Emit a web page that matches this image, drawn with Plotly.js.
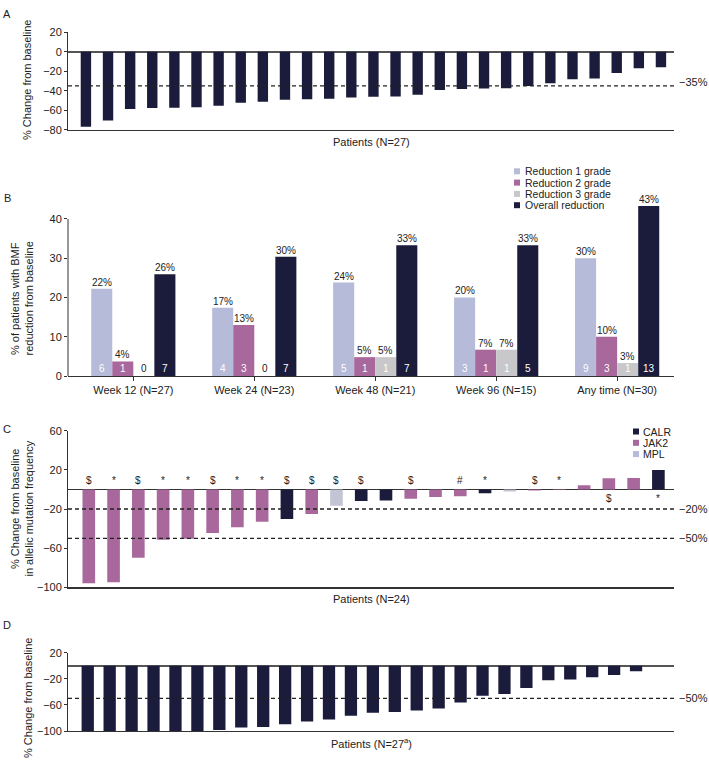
<!DOCTYPE html>
<html>
<head>
<meta charset="utf-8">
<script src="https://cdn.plot.ly/plotly-3.0.1.min.js"></script>
<style>
  html, body { margin: 0; padding: 0; background: #ffffff; }
  #chart { width: 709px; height: 762px; }
</style>
</head>
<body>
<div id="chart"></div>
<script>
// ---------- Data ----------
// Panel A: spleen volume change per patient (%)
const spleenChange = [-77, -70.5, -58.8, -57.7, -57.4, -57, -55.4, -52.3, -51.2, -49.2,
  -48.8, -48.1, -46.9, -46.1, -46, -44, -39.2, -38.2, -37.8, -37.5,
  -35.1, -32.4, -28.2, -27.5, -21.7, -16.9, -15.8];
const spleenThreshold = -35;

// Panel B: bone marrow fibrosis reduction
const bmfCategories = ['Week 12 (N=27)', 'Week 24 (N=23)', 'Week 48 (N=21)', 'Week 96 (N=15)', 'Any time (N=30)'];
const bmfSeriesNames = ['Reduction 1 grade', 'Reduction 2 grade', 'Reduction 3 grade', 'Overall reduction'];
const bmfPct1 = [22.2, 17.4, 23.8, 20.0, 30.0];
const bmfPct2 = [3.7, 13.0, 4.8, 6.7, 10.0];
const bmfPct3 = [0, 0, 4.8, 6.7, 3.3];
const bmfPctOverall = [25.9, 30.4, 33.3, 33.3, 43.3];
const bmfCount1 = [6, 4, 5, 3, 9];
const bmfCount2 = [1, 3, 1, 1, 3];
const bmfCount3 = [0, 0, 1, 1, 1];
const bmfCountOverall = [7, 7, 7, 5, 13];

// Panel C: allelic mutation frequency change per patient (%)
const alleleChange = [-95.9, -94.9, -69.7, -51.4, -50.3, -44.5, -38.7, -33.0, -30.2, -25.1,
  -16.6, -11.8, -11.2, -9.5, -7.8, -7.1, -4.0, -2.0, -1.0, -0.6,
  4.2, 11.3, 11.7, 19.8];
const alleleMutation = ['JAK2', 'JAK2', 'JAK2', 'JAK2', 'JAK2', 'JAK2', 'JAK2', 'JAK2', 'CALR', 'JAK2',
  'MPL', 'CALR', 'CALR', 'JAK2', 'JAK2', 'JAK2', 'CALR', 'MPL', 'JAK2', 'JAK2',
  'JAK2', 'JAK2', 'JAK2', 'CALR'];
const alleleMarks = ['$', '*', '$', '*', '*', '$', '*', '*', '$', '$',
  '$', '$', '', '$', '', '#', '*', '', '$', '*',
  '', '$', '', '*'];
const mutationNames = ['CALR', 'JAK2', 'MPL'];
const alleleThresholds = [-20, -50];

// Panel D: symptom score change per patient (%)
const symptomChange = [-100, -100, -100, -100, -100, -100, -98.5, -94.5, -94, -89.5,
  -85.3, -82.3, -76.6, -72, -71, -68.4, -65.4, -56.2, -46, -43.4,
  -34.2, -22.4, -20.9, -17.8, -14.3, -8.6, 0];
const symptomThreshold = -50;

// ---------- Styling ----------
const W = 709, H = 762;
const FONT = 'Liberation Sans, Arial, Helvetica, sans-serif';
const INK = '#222222';
const AXIS = '#333333';
const NAVY = '#1b1b3b';
const PINK = '#a8689b';
const LIGHT = '#b5bbd8';
const GRAY = '#c8c8ca';
const MUT_COLORS = { CALR: NAVY, JAK2: PINK, MPL: '#c3c5d4' };
const BMF_COLORS = [LIGHT, PINK, GRAY, NAVY];
const LEGEND_FONT = 10.5;
const LEGEND_STEP = 11.3;

const px = x => x / W;          // pixel column -> paper x
const py = y => 1 - y / H;      // pixel row -> paper y
const XDOM = [px(68), px(674)];
const idx = n => Array.from({ length: n }, (_, i) => i);

const traces = [];
const annotations = [];
const shapes = [];

// ---------- Panel A ----------
traces.push({
  type: 'bar', x: idx(spleenChange.length), y: spleenChange,
  xaxis: 'x', yaxis: 'y', width: 0.47, offset: -0.235,
  marker: { color: NAVY, line: { width: 0 } }, showlegend: false, hoverinfo: 'skip'
});
shapes.push({ type: 'line', xref: 'x domain', yref: 'y', x0: 0, x1: 1, y0: spleenThreshold, y1: spleenThreshold,
  line: { color: INK, width: 1.3, dash: '4px,3px' } });
annotations.push({ xref: 'paper', yref: 'y', x: px(677), y: spleenThreshold, xanchor: 'left', yanchor: 'middle',
  yshift: 4, text: '\u2212' + Math.abs(spleenThreshold) + '%', showarrow: false, font: { size: 11, color: INK } });

// ---------- Panel B ----------
const bmfPct = [bmfPct1, bmfPct2, bmfPct3, bmfPctOverall];
const bmfCount = [bmfCount1, bmfCount2, bmfCount3, bmfCountOverall];
const BW = 0.174;
bmfPct.forEach((vals, s) => {
  const off = -2 * BW + s * BW;
  traces.push({
    type: 'bar', x: bmfCategories, y: vals, name: bmfSeriesNames[s],
    xaxis: 'x2', yaxis: 'y2', width: BW, offset: off,
    marker: { color: BMF_COLORS[s], line: { width: 0 } },
    showlegend: false, hoverinfo: 'skip'
  });
  vals.forEach((v, i) => {
    const xc = i + off + BW / 2;
    // percentage above the bar
    if (v > 0) {
      annotations.push({ xref: 'x2', yref: 'y2', x: xc, y: v, yanchor: 'bottom', xanchor: 'center',
        yshift: 0, text: Math.round(v) + '%', showarrow: false, borderpad: 0,
        font: { size: 10, color: INK } });
    }
    // patient count at the foot of the bar
    const c = bmfCount[s][i];
    annotations.push({ xref: 'x2', yref: 'y2', x: xc, y: 0, yanchor: 'bottom', xanchor: 'center',
      yshift: 1, text: String(c), showarrow: false, borderpad: 0,
      font: { size: 10, color: c > 0 ? '#ffffff' : INK } });
  });
});
shapes.push({ type: 'line', xref: 'x2 domain', yref: 'y2', x0: 0, x1: 0, y0: 0, y1: 40,
  line: { color: AXIS, width: 1 } });
// legend for panel B
bmfSeriesNames.forEach((name, s) => {
  const yc = 171.3 + s * LEGEND_STEP;
  shapes.push({ type: 'rect', xref: 'paper', yref: 'paper', x0: px(514), x1: px(520), y0: py(yc + 3), y1: py(yc - 3),
    fillcolor: BMF_COLORS[s], line: { width: 0 } });
  annotations.push({ xref: 'paper', yref: 'paper', x: px(524), y: py(yc), xanchor: 'left', yanchor: 'middle',
    borderpad: 0, text: name, showarrow: false, font: { size: LEGEND_FONT, color: INK } });
});

// ---------- Panel C ----------
mutationNames.forEach(m => {
  const ids = idx(alleleChange.length).filter(i => alleleMutation[i] === m);
  traces.push({
    type: 'bar', x: ids, y: ids.map(i => alleleChange[i]), name: m,
    xaxis: 'x3', yaxis: 'y3', width: 0.51, offset: -0.255,
    marker: { color: MUT_COLORS[m], line: { width: 0 } }, showlegend: false, hoverinfo: 'skip'
  });
});
alleleMarks.forEach((mk, i) => {
  if (!mk) return;
  const below = alleleChange[i] > 0;
  annotations.push({ xref: 'x3', yref: 'y3', x: i, y: 0, xanchor: 'center',
    yanchor: below ? 'top' : 'bottom', yshift: below ? -2 : 1,
    text: mk, showarrow: false, font: { size: 10, color: INK } });
});
alleleThresholds.forEach(t => {
  shapes.push({ type: 'line', xref: 'x3 domain', yref: 'y3', x0: 0, x1: 1, y0: t, y1: t,
    line: { color: INK, width: 1.3, dash: '4px,3px' } });
  annotations.push({ xref: 'paper', yref: 'y3', x: px(677), y: t, xanchor: 'left', yanchor: 'middle',
    text: '\u2212' + Math.abs(t) + '%', showarrow: false, font: { size: 11, color: INK } });
});
mutationNames.forEach((m, k) => {
  const yc = 431.5 + k * LEGEND_STEP;
  shapes.push({ type: 'rect', xref: 'paper', yref: 'paper', x0: px(633), x1: px(639), y0: py(yc + 3), y1: py(yc - 3),
    fillcolor: k === 2 ? LIGHT : MUT_COLORS[m], line: { width: 0 } });
  annotations.push({ xref: 'paper', yref: 'paper', x: px(642), y: py(yc), xanchor: 'left', yanchor: 'middle',
    borderpad: 0, text: m, showarrow: false, font: { size: LEGEND_FONT, color: INK } });
});

// ---------- Panel D ----------
traces.push({
  type: 'bar', x: idx(symptomChange.length), y: symptomChange,
  xaxis: 'x4', yaxis: 'y4', width: 0.56, offset: -0.28,
  marker: { color: NAVY, line: { width: 0 } }, showlegend: false, hoverinfo: 'skip'
});
shapes.push({ type: 'line', xref: 'x4 domain', yref: 'y4', x0: 0, x1: 1, y0: symptomThreshold, y1: symptomThreshold,
  line: { color: INK, width: 1.3, dash: '4px,3px' } });
annotations.push({ xref: 'paper', yref: 'y4', x: px(677), y: symptomThreshold, xanchor: 'left', yanchor: 'middle',
  text: '\u2212' + Math.abs(symptomThreshold) + '%', showarrow: false, font: { size: 11, color: INK } });

// ---------- Titles and panel letters ----------
const textNote = (x, y, text, extra) => Object.assign({ xref: 'paper', yref: 'paper', x: px(x), y: py(y),
  xanchor: 'center', yanchor: 'middle', text: text, showarrow: false, font: { size: 11, color: INK } }, extra || {});
const vertical = { textangle: -90 };
annotations.push(textNote(7, 14, 'A'));
annotations.push(textNote(7, 198, 'B'));
annotations.push(textNote(7, 429, 'C'));
annotations.push(textNote(7, 625, 'D'));
annotations.push(textNote(27, 80, '% Change from baseline', vertical));
annotations.push(textNote(15, 299, '% of patients with BMF', vertical));
annotations.push(textNote(28.5, 299, 'reduction from baseline', vertical));
annotations.push(textNote(15, 509, '% Change from baseline', vertical));
annotations.push(textNote(28.5, 509, 'in allelic mutation frequency', vertical));
annotations.push(textNote(28, 698, '% Change from baseline', vertical));
annotations.push(textNote(371, 142, 'Patients (N=27)'));
annotations.push(textNote(371, 599, 'Patients (N=24)'));
annotations.push(textNote(371, 743, 'Patients (N=27<sup>a</sup>)'));

// ---------- Axes ----------
const baseX = { domain: XDOM, showgrid: false, zeroline: false, showline: true, linecolor: AXIS, linewidth: 1.2,
  showticklabels: false, ticks: '', fixedrange: true };
const baseY = { showgrid: false, showline: true, linecolor: AXIS, linewidth: 1, ticks: 'outside', ticklen: 3,
  tickcolor: AXIS, tickwidth: 1, tickfont: { size: 11, color: INK }, fixedrange: true };

const layout = {
  width: W, height: H,
  margin: { l: 0, r: 0, t: 0, b: 0, pad: 0 },
  paper_bgcolor: '#ffffff', plot_bgcolor: '#ffffff',
  font: { family: FONT, size: 11, color: INK },
  barmode: 'overlay',
  showlegend: false,
  xaxis: Object.assign({}, baseX, { anchor: 'y', range: [-0.81, 26.59] }),
  yaxis: Object.assign({}, baseY, { anchor: 'x', domain: [py(129.7), py(32.3)], range: [-80, 20],
    tickvals: [-80, -60, -40, -20, 0, 20], zeroline: true, zerolinecolor: '#555555', zerolinewidth: 1.5 }),
  xaxis2: Object.assign({}, baseX, { anchor: 'y2', type: 'category', range: [-0.54, 4.47],
    showticklabels: true, ticks: 'outside', ticklen: 4, tickcolor: AXIS, tickwidth: 1,
    tickfont: { size: 11, color: INK } }),
  yaxis2: Object.assign({}, baseY, { anchor: 'x2', domain: [py(376), py(191.5)], range: [0, 47],
    tickvals: [0, 10, 20, 30, 40], showline: false, zeroline: false }),
  xaxis3: Object.assign({}, baseX, { anchor: 'y3', range: [-0.84, 23.63] }),
  yaxis3: Object.assign({}, baseY, { anchor: 'x3', domain: [py(587.3), py(430.7)], range: [-100, 60],
    tickvals: [-100, -60, -20, 20, 60], zeroline: true, zerolinecolor: AXIS, zerolinewidth: 1.5 }),
  xaxis4: Object.assign({}, baseX, { anchor: 'y4', range: [-0.9, 26.73] }),
  yaxis4: Object.assign({}, baseY, { anchor: 'x4', domain: [py(731), py(652.7)], range: [-100, 20],
    tickvals: [-100, -60, -20, 20], zeroline: true, zerolinecolor: '#555555', zerolinewidth: 1.5 }),
  annotations: annotations,
  shapes: shapes
};

Plotly.newPlot('chart', traces, layout, { staticPlot: true, displayModeBar: false });
</script>
</body>
</html>
